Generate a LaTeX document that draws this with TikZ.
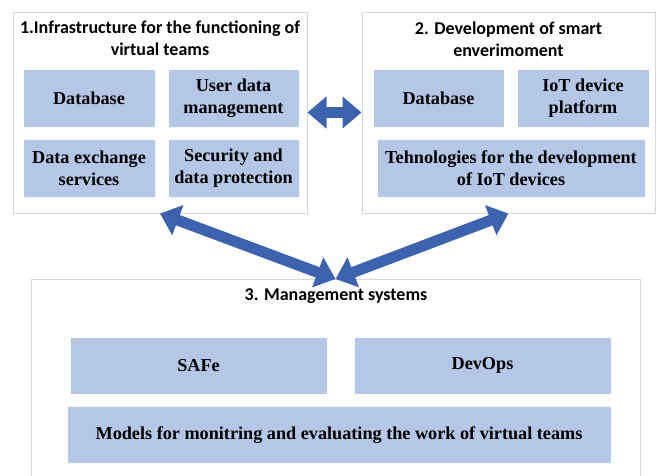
\documentclass[tikz,border=0pt]{standalone}
\usepackage{fontspec}
\setmainfont{Liberation Serif}
\newfontfamily\calibri{Carlito}
\usetikzlibrary{arrows.meta}
\definecolor{cellblue}{HTML}{B4C7E7}
\definecolor{arrowblue}{HTML}{3D63AE}
\definecolor{framegray}{HTML}{D6D6D6}

\begin{document}
\begin{tikzpicture}[x=1pt,y=-1pt,
	frame/.style={draw=framegray, line width=1pt, fill=white, inner sep=0pt},
	cell/.style={fill=cellblue, draw=white!92!cellblue, line width=0.8pt, inner sep=0pt, align=center, font=\bfseries\fontsize{18.2}{22}\selectfont},
	heading/.style={align=center, font=\calibri\bfseries\fontsize{18}{22}\selectfont},
	link/.style={draw=arrowblue, line width=11pt, {Triangle[width=31pt,length=19pt]}-{Triangle[width=31pt,length=19pt]}}]
	\clip (0,0) rectangle (657,475);
	% the three blocks
	\node (B1) at (160, 112.5)	[frame, minimum width=294pt, minimum height=201pt]	{};
	\node (B2) at (508.5, 112.5)	[frame, minimum width=293pt, minimum height=201pt]	{};
	\node (B3) at (335.5, 279)	[frame, anchor=north, minimum width=609pt, minimum height=220pt]	{};
	\node (T1) at (160, 38)	[heading]	{1.Infrastructure for the functioning of\\virtual teams};
	\node (T2) at (508.5, 39)	[heading]	{2. Development of smart\\enverimoment};
	\node (T3) at (336, 296)	[heading]	{3. Management systems};
	% block 1
	\node (C11) at ( 89, 98)	[cell, minimum width=132pt, minimum height=58pt]	{Database};
	\node (C12) at (233.5, 98)	[cell, minimum width=131pt, minimum height=58pt]	{User data\\management};
	\node (C13) at ( 89, 168)	[cell, minimum width=132pt, minimum height=58pt]	{Data exchange\\services};
	\node (C14) at (233.5, 168)	[cell, minimum width=131pt, minimum height=58pt]	{Security and\\data protection};
	% block 2
	\node (C21) at (438.5, 98)	[cell, minimum width=131pt, minimum height=58pt]	{Database};
	\node (C22) at (583, 98)	[cell, minimum width=132pt, minimum height=58pt]	{IoT device\\platform};
	\node (C23) at (511, 168)	[cell, minimum width=268pt, minimum height=58pt]	{Tehnologies for the development\\of IoT devices};
	% block 3
	\node (C31) at (198.5, 365.5)	[cell, minimum width=257pt, minimum height=57pt]	{SAFe};
	\node (C32) at (482.5, 365.5)	[cell, minimum width=257pt, minimum height=57pt]	{DevOps};
	\node (C33) at (339, 435)	[cell, minimum width=544pt, minimum height=57pt]	{Models for monitring and evaluating the work of virtual teams};
	% links
	\draw[link] (B1.east) -- (B2.west);
	\draw[link] (B3.north) -- (B1.south);
	\draw[link] (B3.north) -- (B2.south);
\end{tikzpicture}
\end{document}
